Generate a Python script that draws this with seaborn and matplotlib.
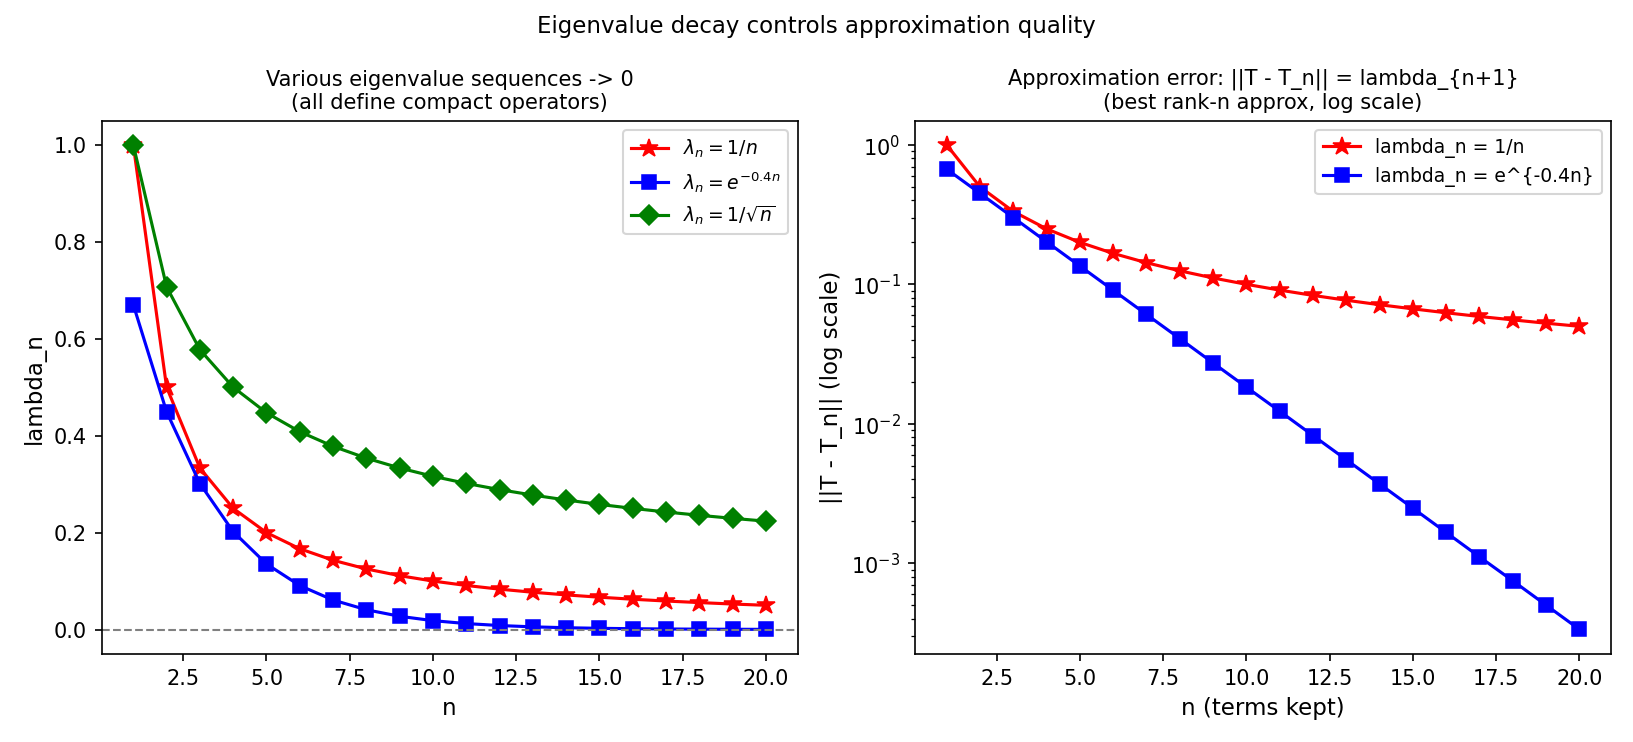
import numpy as np
import pandas as pd
import seaborn as sns
import matplotlib
matplotlib.use("Agg")
import matplotlib.pyplot as plt

# Datos
n_vals = list(range(1, 21))
lam_inv = [1.0, 0.5, 0.3333, 0.25, 0.2, 0.1667, 0.1429, 0.125, 0.1111, 0.1,
           0.0909, 0.0833, 0.0769, 0.0714, 0.0667, 0.0625, 0.0588, 0.0556, 0.0526, 0.05]
lam_exp = [0.6703, 0.4493, 0.3012, 0.2019, 0.1353, 0.0907, 0.0608, 0.0408, 0.0273, 0.0183,
           0.0123, 0.00823, 0.00552, 0.0037, 0.00248, 0.00166, 0.00111, 0.000747, 0.0005, 0.000335]
lam_sqrt = [1.0, 0.7071, 0.5774, 0.5, 0.4472, 0.4082, 0.378, 0.3536, 0.3333, 0.3162,
            0.3015, 0.2887, 0.2774, 0.2673, 0.2582, 0.25, 0.2425, 0.2357, 0.2294, 0.2236]

df = pd.DataFrame({'n': n_vals, 'inv': lam_inv, 'exp': lam_exp, 'sqrt': lam_sqrt})

fig, (ax1, ax2) = plt.subplots(1, 2, figsize=(10.89, 4.95), dpi=150)

# Panel izquierdo
sns.lineplot(data=df, x='n', y='inv', ax=ax1, color='red', marker='*', markersize=9,
             markeredgecolor='red', label=r'$\lambda_n = 1/n$')
sns.lineplot(data=df, x='n', y='exp', ax=ax1, color='blue', marker='s', markersize=7,
             markeredgecolor='blue', label=r'$\lambda_n = e^{-0.4n}$')
sns.lineplot(data=df, x='n', y='sqrt', ax=ax1, color='green', marker='D', markersize=7,
             markeredgecolor='green', label=r'$\lambda_n = 1/\sqrt{n}$')
ax1.axhline(0, color='gray', linestyle='--', linewidth=1)
ax1.set_title('Various eigenvalue sequences -> 0\n(all define compact operators)', fontsize=10)
ax1.set_xlabel('n', fontsize=11)
ax1.set_ylabel('lambda_n', fontsize=11)
ax1.legend(fontsize=9)

# Panel derecho
sns.lineplot(data=df, x='n', y='inv', ax=ax2, color='red', marker='*', markersize=9,
             markeredgecolor='red', label='lambda_n = 1/n')
sns.lineplot(data=df, x='n', y='exp', ax=ax2, color='blue', marker='s', markersize=7,
             markeredgecolor='blue', label='lambda_n = e^{-0.4n}')
ax2.set_yscale('log')
ax2.set_title('Approximation error: ||T - T_n|| = lambda_{n+1}\n(best rank-n approx, log scale)', fontsize=10)
ax2.set_xlabel('n (terms kept)', fontsize=11)
ax2.set_ylabel('||T - T_n|| (log scale)', fontsize=11)
ax2.legend(fontsize=9)

fig.suptitle('Eigenvalue decay controls approximation quality', fontsize=11)
fig.tight_layout()
fig.savefig('out.png', dpi=150)
